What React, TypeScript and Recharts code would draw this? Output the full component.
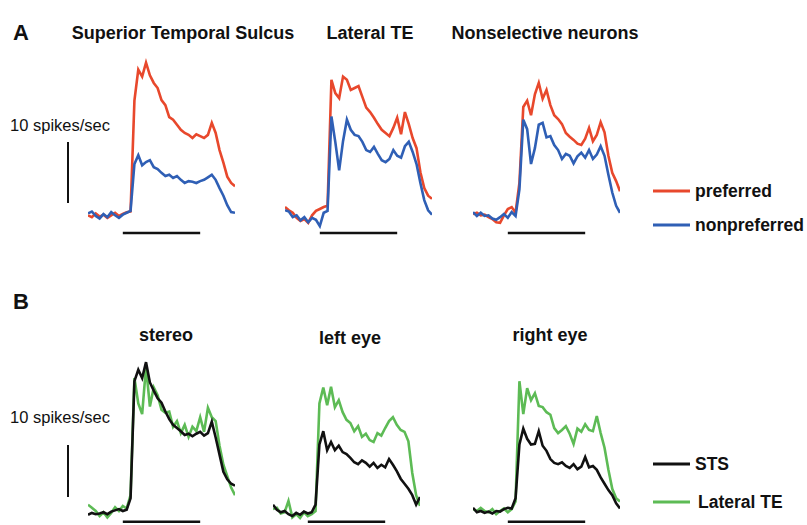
import { LineChart, Line, XAxis, YAxis, ReferenceLine } from 'recharts';

// time bins (ms, relative to stimulus onset)
const TIME_MS = [
  -225, -200, -175, -150, -125, -100, -75, -50, -25, 0, 25, 50, 75, 100, 125, 150, 175, 200, 225, 250,
  275, 300, 325, 350, 375, 400, 425, 450, 475, 500, 525, 550, 575, 600, 625, 650, 675, 700, 725,
];
const STIM_ON = 0;
const STIM_OFF = 500;

// A: preferred / nonpreferred (spikes/sec)
const stsPreferred = [
  3.9, 3.6, 4.2, 3.7, 4.0, 3.5, 3.9, 4.3, 3.8, 4.1, 4.4,
  4.5, 22, 26.9, 25.8, 28, 26, 24.8, 24, 22.1, 21.3, 19.4, 19, 18.2, 17.4, 16.9, 16.6, 16.1, 16.7, 16.4,
  16.1, 16.6, 18.5, 16.9, 14.2, 12.2, 10, 9, 8.5,
];
const stsNonpreferred = [
  4.2, 4.5, 3.8, 3.4, 4.1, 3.6, 4.4, 3.9, 3.5, 4.0, 4.3,
  4.6, 12, 13.4, 11.8, 12.3, 12.6, 11.5, 11.2, 10.6, 10.1, 10.3, 9.8, 10.1, 9.5, 9, 9.3, 9.2, 9, 9.3,
  9.5, 9.9, 10.3, 9.5, 8.2, 7, 5.5, 4.4, 4.3,
];
const ltePreferred = [
  5.2, 4.7, 4.3, 3.5, 3.0, 3.3, 2.7, 3.9, 4.6, 4.9, 5.2,
  5.4, 25.3, 23.2, 22.4, 25.8, 25.3, 23.7, 24, 24.3, 22.6, 20.9, 20.2, 19.3, 18.3, 17.4, 16.9, 16.4, 17.7, 19.3,
  16.7, 20.2, 18.3, 16.1, 14.5, 10.7, 8.2, 7, 6.5,
];
const lteNonpreferred = [
  4.7, 4.5, 3.6, 3.9, 3.1, 3.6, 2.8, 3.5, 3.2, 2.2, 4.3,
  4.6, 19.5, 15.5, 11, 15.6, 19, 17.4, 16.6, 16.4, 15.5, 14.2, 13.9, 14.7, 13.6, 12.6, 12.3, 12.8, 14.2, 13.3,
  13, 14.8, 15.5, 13.9, 12, 9, 6.3, 4.7, 4,
];
const nonselPreferred = [
  4.1, 4.3, 3.9, 4.0, 3.6, 3.3, 2.8, 2.7, 3.9, 4.9, 5.2,
  4.3, 9, 21, 22, 19.7, 23, 24.8, 22.3, 23.7, 21.3, 19.7, 19.1, 18.3, 16.9, 16.3, 15.8, 15.2, 15, 16,
  17.7, 15.6, 16.6, 18.6, 17, 13.3, 10.6, 9.3, 7.7,
];
const nonselNonpreferred = [
  4.4, 3.8, 4.3, 3.8, 3.9, 3.4, 3.2, 3.6, 4.1, 3.5, 4.4,
  3.8, 8, 19, 17.5, 12, 14.5, 18.2, 18.5, 16.2, 16.4, 15, 14.2, 12.8, 13.6, 13.3, 12.1, 13.2, 13.8, 13,
  14.2, 12.8, 13.5, 14.8, 13.3, 10.3, 7.5, 5.4, 4.3,
];

// B: STS / Lateral TE (spikes/sec)
const stereoSts = [
  2.4, 2.7, 2.5, 2.6, 2.8, 2.5, 2.9, 3.1, 3.3, 3.0, 3.2,
  5, 23.5, 25.3, 24, 26.5, 23.3, 22, 20.8, 20.1, 18.7, 17.5, 16.6, 16.1, 15.6, 15, 15.2, 14.8, 15.2, 15.5,
  14.9, 15.3, 17.1, 14.6, 11.9, 9.2, 8, 7.3, 7,
];
const stereoLte = [
  4.0, 3.5, 3.0, 2.2, 2.8, 2.0, 2.7, 3.6, 3.0, 3.8, 3.4,
  5.5, 24, 20, 18.3, 25.8, 19.5, 22.5, 21.3, 19, 18.5, 18.7, 16.3, 17.2, 15.3, 16.6, 14.7, 16.3, 15.6, 17.8,
  15.5, 19.3, 17.8, 17.2, 13.3, 10.3, 8.5, 6.7, 5.5,
];
const leftSts = [
  4.0, 3.2, 2.8, 3.0, 2.5, 2.2, 2.7, 2.4, 2.9, 2.6, 2.8,
  4, 13.5, 15.6, 12.6, 13.9, 12.6, 13.3, 12.3, 12, 11.4, 10.7, 10.4, 11, 10.6, 10, 10.6, 9.8, 10.3, 9.9,
  11.2, 10.3, 9.3, 8.1, 7.3, 6.5, 5.5, 4, 5.2,
];
const leftLte = [
  3.3, 3.5, 2.6, 2.8, 4.6, 2.0, 2.5, 1.9, 2.8, 2.2, 2.5,
  3.0, 20, 22.5, 19.7, 22.6, 19.4, 20.5, 18.6, 17.4, 16.9, 15.6, 16.4, 14.7, 15.2, 14.2, 13.9, 15.3, 14.9, 16.1,
  17.2, 17.8, 16.6, 15.8, 15.5, 14, 9, 5.5, 3.8,
];
const rightSts = [
  3.5, 2.8, 3.0, 2.7, 2.9, 2.6, 3.0, 2.9, 3.3, 3.5, 3.4,
  5, 13.5, 16, 14.4, 13.5, 13.6, 15.6, 13.3, 12.5, 11.2, 10.6, 10.4, 10.7, 10.1, 9.8, 10.4, 9.6, 10, 11.5,
  9.9, 10.1, 9.5, 8.3, 7.3, 6.3, 5.5, 4.2, 3.4,
];
const rightLte = [
  3.3, 3.0, 3.5, 3.0, 2.8, 3.3, 2.5, 3.0, 3.4, 2.8, 3.3,
  4.5, 23.5, 18.3, 22.4, 20.5, 21.6, 19.6, 19.4, 18.6, 18.2, 16.1, 15.3, 15.8, 16.4, 15.2, 13.6, 16, 15.5, 16.7,
  15.8, 15.6, 18, 15.3, 13, 9.5, 6.5, 5, 4.5,
];

const RED = '#e8482c';
const BLUE = '#2f5fb5';
const BLACK = '#111111';
const GREEN = '#5dbb55';
const FONT = '"Liberation Sans", Arial, sans-serif';

const W = 147;
const H = 190;

interface PanelProps {
  left: number;
  top: number;
  first: number[];
  second: number[];
  firstColor: string;
  secondColor: string;
  barY: number;
}

function Panel({ left, top, first, second, firstColor, secondColor, barY }: PanelProps) {
  const rows = TIME_MS.map((t, i) => ({ t, a: first[i], b: second[i] }));
  return (
    <div style={{ position: 'absolute', left, top, width: W, height: H }}>
      <LineChart width={W} height={H} data={rows} margin={{ top: 0, right: 0, bottom: 0, left: 0 }} style={{ overflow: 'visible' }}>
        <XAxis dataKey="t" type="number" domain={[-225, 725]} hide />
        <YAxis type="number" domain={[0, 30]} hide />
        <Line dataKey="a" type="linear" stroke={firstColor} strokeWidth={2.6} dot={false} isAnimationActive={false} />
        <Line dataKey="b" type="linear" stroke={secondColor} strokeWidth={2.6} dot={false} isAnimationActive={false} />
        <ReferenceLine
          segment={[{ x: STIM_ON, y: barY }, { x: STIM_OFF, y: barY }]}
          stroke={BLACK}
          strokeWidth={2.5}
        />
      </LineChart>
    </div>
  );
}

const title = { fontFamily: FONT, fontWeight: 700, fontSize: 18, fill: '#111' } as const;
const legendText = { fontFamily: FONT, fontWeight: 700, fontSize: 17.5, fill: '#111' } as const;
const scaleText = { fontFamily: FONT, fontSize: 16.5, fill: '#111' } as const;

export default function App() {
  return (
    <div style={{ position: 'absolute', left: 0, top: 0, width: 807, height: 525, background: '#fff', overflow: 'hidden' }}>
      <Panel left={88} top={50} first={stsPreferred} second={stsNonpreferred} firstColor={RED} secondColor={BLUE} barY={1.1} />
      <Panel left={285} top={50} first={ltePreferred} second={lteNonpreferred} firstColor={RED} secondColor={BLUE} barY={1.1} />
      <Panel left={473} top={50} first={nonselPreferred} second={nonselNonpreferred} firstColor={RED} secondColor={BLUE} barY={1.1} />
      <Panel left={88} top={340} first={stereoLte} second={stereoSts} firstColor={GREEN} secondColor={BLACK} barY={1.3} />
      <Panel left={273} top={340} first={leftLte} second={leftSts} firstColor={GREEN} secondColor={BLACK} barY={1.3} />
      <Panel left={473} top={340} first={rightLte} second={rightSts} firstColor={GREEN} secondColor={BLACK} barY={1.3} />

      <svg width={807} height={525} style={{ position: 'absolute', left: 0, top: 0, pointerEvents: 'none' }}>
        <text x={13} y={40} style={{ ...title, fontSize: 22 }}>A</text>
        <text x={183} y={39} textAnchor="middle" style={title}>Superior Temporal Sulcus</text>
        <text x={370} y={39} textAnchor="middle" style={title}>Lateral TE</text>
        <text x={545} y={39} textAnchor="middle" style={title}>Nonselective neurons</text>

        <text x={60} y={131} textAnchor="middle" style={scaleText}>10 spikes/sec</text>
        <line x1={68} y1={142} x2={68} y2={203} stroke={BLACK} strokeWidth={2} />

        <line x1={653} y1={191} x2={690} y2={191} stroke={RED} strokeWidth={3} />
        <text x={695} y={197} style={legendText}>preferred</text>
        <line x1={653} y1={225} x2={690} y2={225} stroke={BLUE} strokeWidth={3} />
        <text x={695} y={231} style={legendText}>nonpreferred</text>

        <text x={13} y={309} style={{ ...title, fontSize: 22 }}>B</text>
        <text x={166} y={341} textAnchor="middle" style={title}>stereo</text>
        <text x={350} y={344} textAnchor="middle" style={title}>left eye</text>
        <text x={550} y={341} textAnchor="middle" style={title}>right eye</text>

        <text x={60} y={423} textAnchor="middle" style={scaleText}>10 spikes/sec</text>
        <line x1={68} y1={445} x2={68} y2={497} stroke={BLACK} strokeWidth={2} />

        <line x1={653} y1={464} x2={690} y2={464} stroke={BLACK} strokeWidth={3} />
        <text x={695} y={470} style={legendText}>STS</text>
        <line x1={653} y1={502} x2={690} y2={502} stroke={GREEN} strokeWidth={3} />
        <text x={698} y={508} style={legendText}>Lateral TE</text>
      </svg>
    </div>
  );
}
